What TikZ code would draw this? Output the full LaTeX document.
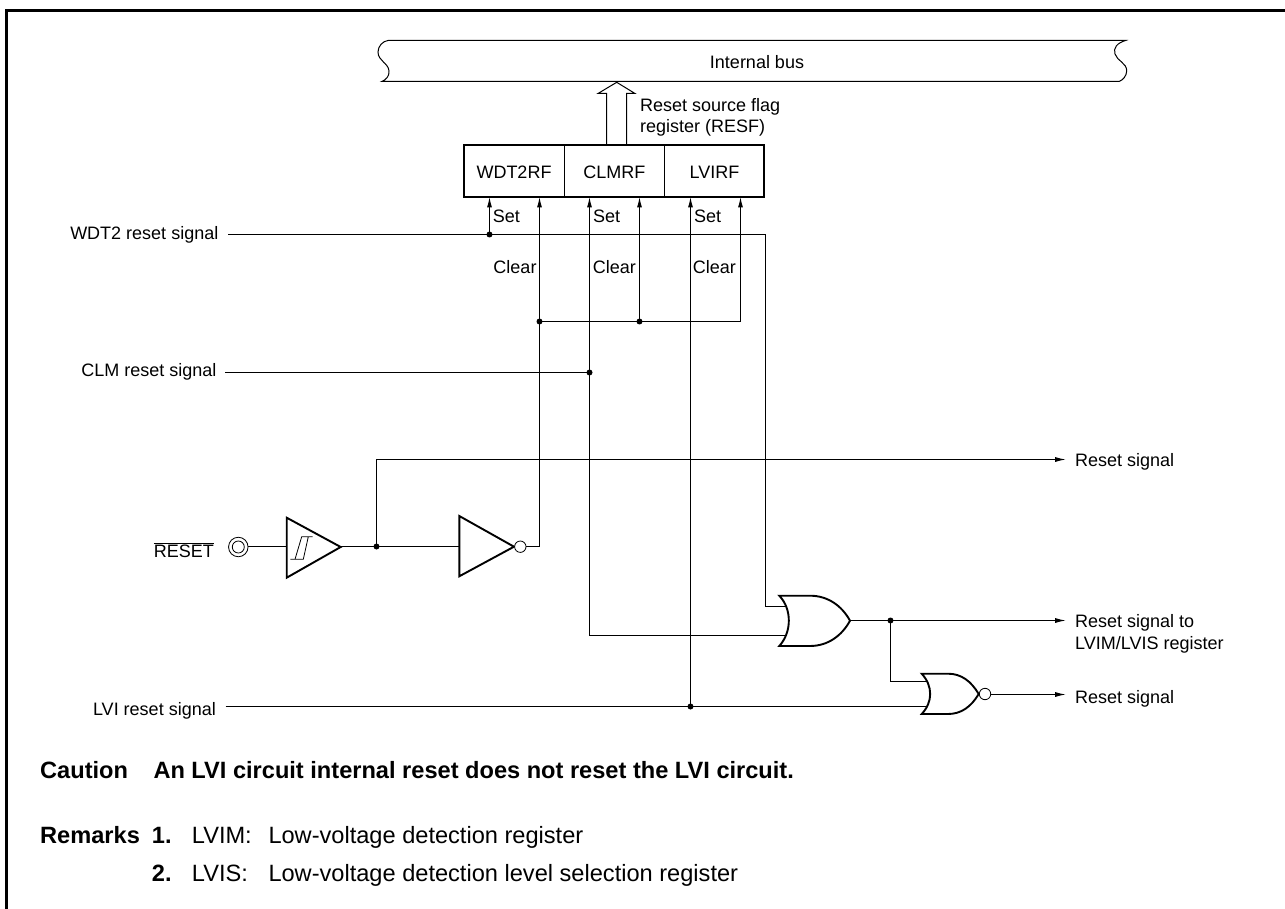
\documentclass[tikz,border=0pt]{standalone}
\usepackage{fontspec}
\setmainfont{Liberation Sans}
\usetikzlibrary{arrows.meta}
\tikzset{
  wire/.style={line width=1pt,line join=miter},
  sig/.style={wire,-{Latex[length=10.5pt,width=5pt]}},
  gate/.style={line width=1.9pt,line join=miter,fill=white},
  frameline/.style={line width=3.2pt},
  dot/.style={circle,fill=black,inner sep=0pt,minimum size=6pt},
  bubble/.style={circle,draw,line width=0.8pt,fill=white,inner sep=0pt,minimum size=11.4pt},
  lab/.style={inner sep=0pt,font=\fontsize{18}{21.4}\selectfont},
  labe/.style={lab,anchor=base east},
  labw/.style={lab,anchor=base west},
  labc/.style={lab,anchor=base},
  multi/.style={lab,anchor=west,align=left},
  note/.style={inner sep=0pt,anchor=base west,font=\fontsize{23.6}{28}\selectfont},
  noteb/.style={note,font=\fontsize{23.6}{28}\selectfont\bfseries},
}
\begin{document}
\begin{tikzpicture}[x=1pt,y=-1pt]
\useasboundingbox (0,0) rectangle (1285,909);
% frame
\draw[frameline,line cap=butt] (6.5,909) -- (6.5,10.7) -- (1285,10.7);
% bus
\draw[line width=1pt] (388,40.5) -- (1125.5,40.5)
  .. controls (1117,43) and (1113,48) .. (1115,54)
  .. controls (1117,61) and (1127,63) .. (1126.7,71)
  .. controls (1126.5,76) and (1123,80) .. (1119,81.5)
  -- (381.7,81.5)
  .. controls (386,80) and (389.5,76) .. (389,71)
  .. controls (388.5,63) and (378,61) .. (378,52)
  .. controls (378,46) and (383,41) .. (388,40.5) -- cycle;
\node[labc] (busl) at (757,68.3) {Internal bus};
% fat arrow
\draw[line width=1pt] (606.5,144) -- (606.5,93.5) -- (598,93.5) -- (616.7,82.3) -- (635,93.5) -- (626.5,93.5) -- (626.5,144);
\node[multi] (resf) at (640,117.5) {Reset source flag\\register (RESF)};
% register
\coordinate (rtl) at (464,145); \coordinate (rbr) at (764,197);
\draw[line width=1.9pt] (rtl) rectangle (rbr);
\draw[line width=1pt] (564.5,145) -- (564.5,197) (664.5,145) -- (664.5,197);
\node[labc] (wdtrf) at (514,179) {WDT2RF};
\node[labc] (clmrf) at (614.3,179) {CLMRF};
\node[labc] (lvirf) at (714.5,179) {LVIRF};
% register inputs
\coordinate (s1) at (489.5,197);   \coordinate (c1) at (539.5,197);
\coordinate (s2) at (589.5,197); \coordinate (c2) at (639.5,197);
\coordinate (s3) at (690.5,197);   \coordinate (c3) at (740.5,197);
\foreach \t/\x in {Set/492.7,Set/593,Set/694}{\node[labw] at (\x,223) {\t};}
\foreach \x in {536.7,636,736}{\node[labe] at (\x,273.3) {Clear};}
% gates geometry
\coordinate (j1) at (489.5,234.5);
\coordinate (j2) at (589.5,372.5);
\coordinate (j3) at (690.5,706.5);
\coordinate (jc1) at (539.5,321.5);
\coordinate (jc2) at (639.5,321.5);
\coordinate (jc3) at (740.5,321.5);
\coordinate (jr) at (376.5,546.5);
\coordinate (jo) at (890.5,620.5);
% left labels
\node[labe] (wdtl) at (218.5,240) {WDT2 reset signal};
\node[labe] (clml) at (216.7,376.7) {CLM reset signal};
\node[labe] (lvil) at (216,715) {LVI reset signal};
\node[labe] (rstl) at (214,557) {$\overline{\hbox{RESET}}$};
% right labels
\node[labw] (r1) at (1075,466) {Reset signal};
\node[multi] (r2) at (1075,634) {Reset signal to\\LVIM/LVIS register};
\node[labw] (r3) at (1075,703.3) {Reset signal};
\coordinate (r1a) at (1065.7,459.5);
\coordinate (r2a) at (1065.7,620.5);
\coordinate (r3a) at (1065.7,694.5);
% wires
\draw[wire] (228,234.5) -- (765.5,234.5) -- (765.5,606.5) -- (786,606.5);
\draw[sig] (j1) -- (s1);
\draw[wire] (225,372.5) -- (j2);
\draw[sig] (785,635.5) -- (589.5,635.5) -- (s2);
\draw[wire] (225.7,706.5) -- (930,706.5);
\draw[sig] (j3) -- (s3);
\draw[sig] (526,546.5) -- (539.5,546.5) -- (c1);
\draw[sig] (jc1) -- (jc3) -- (c3);
\draw[sig] (jc2) -- (c2);
\draw[wire] (248,546.5) -- (287,546.5);
\draw[wire] (340.7,546.5) -- (459.3,546.5);
\draw[sig] (jr) -- (376.5,459.5) -- (r1a);
\draw[sig] (850,620.5) -- (r2a);
\draw[wire] (jo) -- (890.5,681.5) -- (926,681.5);
\draw[sig] (990,694.5) -- (r3a);
% dots
\foreach \j in {j1,j2,j3,jc1,jc2,jr,jo}{\node[dot] at (\j) {};}
% terminal
\node[circle,draw,line width=0.8pt,inner sep=0pt,minimum size=19.5pt,fill=white] (term) at (238.3,547) {};
\node[circle,draw,line width=0.8pt,inner sep=0pt,minimum size=12pt] (termi) at (238.3,547) {};
% schmitt buffer
\draw[gate] (286.7,517.7) -- (340.7,547) -- (286.7,577.7) -- cycle;
\draw[line width=0.8pt] (312.7,536.7) -- (301.7,536.7) -- (295,559.3) (290.3,559.3) -- (303.3,559.3) -- (308.3,536.7);
% inverter
\draw[gate] (459.3,516) -- (514,546.7) -- (459.3,576.3) -- cycle;
\node[bubble] (inv) at (520.3,546.7) {};
% OR
\draw[gate] (779.3,595.7) -- (810,595.7) .. controls (828,595.7) and (842,606) .. (850,620.7)
  .. controls (842,635.5) and (828,646) .. (810,646) -- (779.3,646)
  .. controls (792,632) and (792,609) .. (779.3,595.7) -- cycle;
% NOR
\draw[gate] (921.7,673.7) -- (948,673.7) .. controls (961,673.7) and (971,681) .. (978.7,694)
  .. controls (971,707) and (961,714) .. (948,714) -- (921.7,714)
  .. controls (933,702) and (933,686) .. (921.7,673.7) -- cycle;
\node[bubble] (nor) at (985,694) {};
% notes
\node[noteb] (cau) at (40,778) {Caution};
\node[noteb] (caut) at (153.3,778) {An LVI circuit internal reset does not reset the LVI circuit.};
\node[noteb] (rem) at (40,843) {Remarks};
\node[noteb] (n1) at (151.7,843) {1.};
\node[note] (m1) at (191.7,843) {LVIM:};
\node[note] (t1) at (268.3,843) {Low-voltage detection register};
\node[noteb] (n2) at (151.7,881) {2.};
\node[note] (m2) at (191.7,881) {LVIS:};
\node[note] (t2) at (268.3,881) {Low-voltage detection level selection register};
\end{tikzpicture}
\end{document}
